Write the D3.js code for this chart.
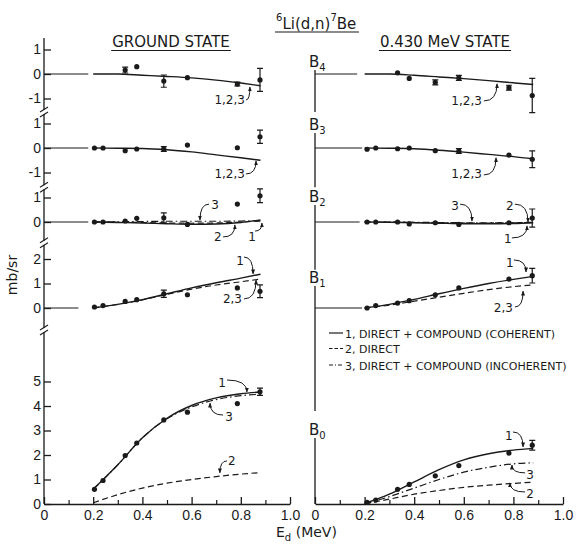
<!DOCTYPE html>
<html>
<head>
<meta charset="utf-8">
<script src="https://cdn.jsdelivr.net/npm/d3@7"></script>
<style>
  body { margin: 0; background: #fff; }
  svg { font-family: "DejaVu Sans", sans-serif; }
</style>
</head>
<body>
<svg id="chart" width="583" height="544"></svg>
<script>
// deuteron energies (MeV) of the measured points and of the calculated curves
const E_GS = [0.205, 0.24, 0.33, 0.377, 0.487, 0.583, 0.786, 0.878];
const E_EX = [0.21, 0.245, 0.333, 0.38, 0.485, 0.58, 0.782, 0.876];
const E_CURVE = [0.2, 0.3, 0.4, 0.5, 0.6, 0.7, 0.8, 0.88];
const X_TICKS = [0, 0.2, 0.4, 0.6, 0.8, 1.0];
const X_MINOR = [0.1, 0.3, 0.5, 0.7, 0.9];

// ground state: measured Legendre coefficients (mb/sr) and errors
const gsB4 = [null, null, 0.16, 0.3, -0.29, -0.15, -0.41, -0.24];
const gsB4Err = [0, 0, 0.12, 0, 0.25, 0, 0.08, 0.47];
const gsB3 = [0, 0, -0.11, -0.04, -0.04, 0.12, 0.01, 0.46];
const gsB3Err = [0, 0, 0, 0, 0.1, 0, 0, 0.27];
const gsB2 = [0, 0, 0.04, 0.15, 0.17, -0.1, 0.73, 1.07];
const gsB2Err = [0, 0, 0, 0, 0.2, 0, 0, 0.28];
const gsB1 = [0.04, 0.1, 0.27, 0.34, 0.58, 0.54, 0.82, 0.68];
const gsB1Err = [0, 0, 0, 0, 0.15, 0, 0, 0.26];
const gsB0 = [0.6, 0.96, 1.98, 2.49, 3.43, 3.75, 4.1, 4.58];
const gsB0Err = [0, 0, 0, 0, 0, 0, 0, 0.15];

// ground state: calculated curves (1 coherent, 2 direct, 3 incoherent)
const gsB4Fit = [0, 0, -0.05, -0.1, -0.16, -0.25, -0.37, -0.48];
const gsB3Fit = [0, -0.01, -0.02, -0.07, -0.16, -0.28, -0.4, -0.5];
const gsB2Fit1 = [0, -0.02, -0.04, -0.07, -0.09, -0.08, -0.02, 0.08];
const gsB2Fit2 = [0, -0.01, -0.02, -0.04, -0.05, -0.04, 0, 0.04];
const gsB2Fit3 = [0, 0.01, 0.02, 0.03, 0.03, 0.03, 0.04, 0.05];
const gsB1Fit1 = [0, 0.15, 0.34, 0.58, 0.82, 1.03, 1.22, 1.38];
const gsB1Fit23 = [0, 0.15, 0.33, 0.56, 0.77, 0.94, 1.07, 1.18];
const gsB0Fit1 = [0.6, 1.6, 2.7, 3.5, 4.02, 4.33, 4.5, 4.57];
const gsB0Fit2 = [0.05, 0.38, 0.65, 0.85, 1.0, 1.12, 1.22, 1.28];
const gsB0Fit3 = [0.6, 1.6, 2.7, 3.48, 3.96, 4.26, 4.42, 4.48];

// 0.430 MeV state: measured coefficients and errors
const exB4 = [null, null, 0.05, -0.18, -0.34, -0.16, -0.56, -0.88];
const exB4Err = [0, 0, 0, 0, 0.1, 0.1, 0.1, 0.7];
const exB3 = [-0.05, 0, -0.03, 0, -0.11, -0.12, -0.29, -0.46];
const exB3Err = [0, 0, 0, 0, 0, 0.1, 0, 0.34];
const exB2 = [0, 0, 0, -0.08, -0.03, -0.1, -0.03, 0.16];
const exB2Err = [0, 0, 0, 0, 0, 0, 0, 0.37];
const exB1 = [0, 0.1, 0.2, 0.3, 0.54, 0.82, 1.18, 1.32];
const exB1Err = [0, 0, 0, 0, 0, 0, 0, 0.3];
const exB0 = [0.07, 0.16, 0.6, 0.8, 1.15, 1.57, 2.08, 2.4];
const exB0Err = [0, 0, 0, 0, 0, 0, 0, 0.2];

// 0.430 MeV state: calculated curves
const exB4Fit = [0, 0, -0.05, -0.12, -0.19, -0.27, -0.36, -0.43];
const exB3Fit = [0, -0.01, -0.03, -0.09, -0.17, -0.26, -0.35, -0.44];
const exB2Fit1 = [0, -0.01, -0.03, -0.05, -0.07, -0.07, -0.06, -0.03];
const exB2Fit2 = [0, 0, -0.02, -0.03, -0.04, -0.04, -0.03, -0.01];
const exB2Fit3 = [0, 0, -0.01, -0.02, -0.03, -0.03, -0.03, -0.02];
const exB1Fit1 = [0, 0.15, 0.35, 0.58, 0.8, 1.0, 1.17, 1.29];
const exB1Fit23 = [0, 0.12, 0.28, 0.44, 0.6, 0.75, 0.87, 0.94];
const exB0Fit1 = [0.02, 0.4, 0.9, 1.4, 1.8, 2.05, 2.2, 2.27];
const exB0Fit2 = [0, 0.2, 0.4, 0.55, 0.68, 0.77, 0.84, 0.89];
const exB0Fit3 = [0, 0.3, 0.65, 1.0, 1.3, 1.5, 1.64, 1.68];

// curve labels: [panel, text, anchor, labelE, labelV, arrowStartE, arrowStartV, tipE, tipV]
const gsNotes = [
  ["B4", "1,2,3", "end", 0.817, -1.22, 0.821, -1.06, 0.837, -0.53],
  ["B3", "1,2,3", "end", 0.817, -1.22, 0.821, -1.06, 0.862, -0.53],
  ["B2", "3", "middle", 0.695, 0.53, 0.671, 0.73, 0.634, 0.08],
  ["B2", "2", "middle", 0.707, -0.78, 0.728, -0.61, 0.776, -0.12],
  ["B2", "1", "middle", 0.846, -0.78, 0.858, -0.37, 0.886, -0.04],
  ["B1", "1", "middle", 0.797, 1.76, 0.813, 2.08, 0.85, 1.39],
  ["B1", "2,3", "end", 0.805, 0.2, 0.813, 0.37, 0.862, 1.14],
  ["B0", "1", "middle", 0.724, 4.78, 0.744, 5.06, 0.825, 4.57],
  ["B0", "3", "middle", 0.752, 3.39, 0.728, 3.63, 0.675, 4.12],
  ["B0", "2", "middle", 0.764, 1.59, 0.744, 1.76, 0.715, 1.27]
];
const exNotes = [
  ["B4", "1,2,3", "end", 0.673, -1.27, 0.681, -1.1, 0.734, -0.4],
  ["B3", "1,2,3", "end", 0.673, -1.22, 0.681, -1.1, 0.73, -0.4],
  ["B2", "3", "middle", 0.565, 0.49, 0.585, 0.73, 0.633, 0.04],
  ["B2", "2", "middle", 0.786, 0.49, 0.806, 0.73, 0.859, 0],
  ["B2", "1", "middle", 0.778, -0.86, 0.794, -0.65, 0.855, -0.16],
  ["B1", "1", "middle", 0.786, 1.67, 0.802, 1.96, 0.851, 1.47],
  ["B1", "2,3", "end", 0.798, -0.16, 0.806, 0.04, 0.839, 0.69],
  ["B0", "1", "middle", 0.782, 2.61, 0.798, 2.94, 0.839, 2.33],
  ["B0", "3", "middle", 0.867, 1.02, 0.847, 1.27, 0.794, 1.59],
  ["B0", "2", "middle", 0.867, 0.24, 0.847, 0.49, 0.786, 0.86]
];

const LEGEND = ["1, DIRECT + COMPOUND (COHERENT)", "2, DIRECT", "3, DIRECT + COMPOUND (INCOHERENT)"];

// layout
const ZERO_Y = { B4: 74, B3: 148, B2: 222, B1: 308, B0: 504 };
const UNIT = 24.5; // px per mb/sr
const DASH = { solid: null, dashed: "6,3.5", dashdot: "7,3,1.5,3" };
const INK = "#1a1a1a";

const groundState = {
  x: d3.scaleLinear().domain([0, 1]).range([44, 290]),
  energies: E_GS,
  notes: gsNotes,
  panels: [
    { name: "B4", pts: gsB4, err: gsB4Err, ticks: [-1, 0, 1], refEnd: 0.18, brk: -1.55,
      curves: [[gsB4Fit, "solid"]] },
    { name: "B3", pts: gsB3, err: gsB3Err, ticks: [-1, 0, 1], refEnd: 0.18, brk: -1.6,
      curves: [[gsB3Fit, "solid"]] },
    { name: "B2", pts: gsB2, err: gsB2Err, ticks: [0, 1], refEnd: 0.18, brk: -0.85,
      curves: [[gsB2Fit3, "dashdot"], [gsB2Fit2, "dashed"], [gsB2Fit1, "solid"]] },
    { name: "B1", pts: gsB1, err: gsB1Err, ticks: [0, 1, 2], refEnd: 0.14, brk: -0.9,
      curves: [[gsB1Fit23, "dashed"], [gsB1Fit1, "solid"]] },
    { name: "B0", pts: gsB0, err: gsB0Err, ticks: [0, 1, 2, 3, 4, 5], refEnd: null, brk: null,
      curves: [[gsB0Fit2, "dashed"], [gsB0Fit3, "dashdot"], [gsB0Fit1, "solid"]] }
  ]
};

const excited = {
  x: d3.scaleLinear().domain([0, 1]).range([315, 563]),
  energies: E_EX,
  notes: exNotes,
  panels: [
    { name: "B4", sub: "4", pts: exB4, err: exB4Err, refEnd: 0.17, lab: 0.29, axBottom: -1.55,
      curves: [[exB4Fit, "solid"]] },
    { name: "B3", sub: "3", pts: exB3, err: exB3Err, refEnd: 0.19, lab: 0.73, axBottom: -1.6,
      curves: [[exB3Fit, "solid"]] },
    { name: "B2", sub: "2", pts: exB2, err: exB2Err, refEnd: 0.18, lab: 0.82, axBottom: -1.95,
      curves: [[exB2Fit3, "dashdot"], [exB2Fit2, "dashed"], [exB2Fit1, "solid"]] },
    { name: "B1", sub: "1", pts: exB1, err: exB1Err, refEnd: 0.19, lab: 1.02, axBottom: -4.2,
      curves: [[exB1Fit23, "dashed"], [exB1Fit1, "solid"]] },
    { name: "B0", sub: "0", pts: exB0, err: exB0Err, refEnd: null, lab: 2.82, axBottom: 0,
      curves: [[exB0Fit2, "dashed"], [exB0Fit3, "dashdot"], [exB0Fit1, "solid"]] }
  ]
};

const svg = d3.select("#chart");

svg.append("defs").append("marker")
  .attr("id", "ah")
  .attr("viewBox", "0 0 10 10")
  .attr("refX", 9).attr("refY", 5)
  .attr("markerWidth", 5).attr("markerHeight", 5)
  .attr("orient", "auto")
  .append("path")
  .attr("d", "M0,1 L10,5 L0,9 Z")
  .attr("fill", INK);

function yScale(name) {
  const z = ZERO_Y[name];
  return d3.scaleLinear().domain([0, 1]).range([z, z - UNIT]);
}

function drawSide(side) {
  const x = side.x;
  const g = svg.append("g");

  side.panels.forEach((p) => {
    const y = yScale(p.name);

    // zero reference line near the axis
    if (p.refEnd) {
      g.append("line")
        .attr("x1", x(0)).attr("x2", x(p.refEnd))
        .attr("y1", y(0)).attr("y2", y(0))
        .attr("stroke", INK).attr("stroke-width", 1);
    }

    const line = d3.line()
      .x((d) => x(d[0]))
      .y((d) => y(d[1]))
      .curve(d3.curveMonotoneX);

    p.curves.forEach(([vals, style]) => {
      g.append("path")
        .datum(E_CURVE.map((e, i) => [e, vals[i]]))
        .attr("fill", "none")
        .attr("stroke", INK)
        .attr("stroke-width", style === "solid" ? 1.4 : 1.2)
        .attr("stroke-dasharray", DASH[style])
        .attr("d", line);
    });

    const pts = side.energies
      .map((e, i) => ({ e, v: p.pts[i], err: p.err[i] }))
      .filter((d) => d.v !== null);

    const eb = pts.filter((d) => d.err > 0);
    g.selectAll(null).data(eb).enter().append("path")
      .attr("fill", "none").attr("stroke", INK).attr("stroke-width", 1.2)
      .attr("d", (d) => {
        const cx = x(d.e), y1 = y(d.v + d.err), y2 = y(d.v - d.err);
        return `M${cx - 3},${y1}H${cx + 3}M${cx},${y1}V${y2}M${cx - 3},${y2}H${cx + 3}`;
      });

    g.selectAll(null).data(pts).enter().append("circle")
      .attr("cx", (d) => x(d.e))
      .attr("cy", (d) => y(d.v))
      .attr("r", 2.6)
      .attr("fill", INK);
  });

  // curve labels with arrows
  side.notes.forEach(([name, txt, anchor, le, lv, se, sv, te, tv]) => {
    const y = yScale(name);
    g.append("text")
      .attr("x", x(le)).attr("y", y(lv))
      .attr("text-anchor", anchor)
      .attr("font-size", 12)
      .attr("fill", INK)
      .text(txt);
    const sx = x(se), sy = y(sv), tx = x(te), ty = y(tv);
    g.append("path")
      .attr("d", `M${sx},${sy}Q${tx},${sy} ${tx},${ty}`)
      .attr("fill", "none")
      .attr("stroke", INK)
      .attr("stroke-width", 1)
      .attr("marker-end", "url(#ah)");
  });

  // energy axis
  const xAxis = g.append("g")
    .attr("transform", `translate(0,${ZERO_Y.B0})`)
    .call(d3.axisBottom(x).tickValues(X_TICKS)
      .tickSizeInner(-7).tickSizeOuter(0).tickPadding(6)
      .tickFormat((d) => (d === 0 ? "0" : d3.format(".1f")(d))));
  xAxis.selectAll("text").attr("font-size", 14).attr("fill", INK);
  xAxis.selectAll("line, path").attr("stroke", INK).attr("stroke-width", 1.3);

  const xMinor = g.append("g")
    .attr("transform", `translate(0,${ZERO_Y.B0})`)
    .call(d3.axisBottom(x).tickValues(X_MINOR).tickSize(-4).tickFormat(""));
  xMinor.select(".domain").remove();
  xMinor.selectAll("line").attr("stroke", INK).attr("stroke-width", 1.2);

  return g;
}

// left: ground state
const gLeft = drawSide(groundState);
const xl = groundState.x;

gLeft.append("line")
  .attr("x1", xl(0)).attr("x2", xl(0))
  .attr("y1", yScale("B4")(1.47)).attr("y2", yScale("B0")(0))
  .attr("stroke", INK).attr("stroke-width", 1.3);

groundState.panels.forEach((p) => {
  const y = yScale(p.name);
  const ax = gLeft.append("g")
    .attr("transform", `translate(${xl(0)},0)`)
    .call(d3.axisLeft(y).tickValues(p.ticks)
      .tickSizeInner(-7).tickSizeOuter(0).tickPadding(3)
      .tickFormat((d) => (d < 0 ? "-" + Math.abs(d) : String(d))));
  ax.select(".domain").remove();
  ax.selectAll("line").attr("stroke", INK).attr("stroke-width", 1.3);
  ax.selectAll("text").attr("font-size", 14).attr("fill", INK);

  if (p.brk !== null) {
    const by = y(p.brk), bx = xl(0);
    gLeft.append("rect")
      .attr("x", bx - 2).attr("y", by - 2).attr("width", 4).attr("height", 4)
      .attr("fill", "#fff");
    [-2.5, 2.5].forEach((off) => {
      gLeft.append("line")
        .attr("x1", bx - 4).attr("y1", by + off + 2.5)
        .attr("x2", bx + 4).attr("y2", by + off - 2.5)
        .attr("stroke", INK).attr("stroke-width", 1.1);
    });
  }
});

// right: 0.430 MeV state
const gRight = drawSide(excited);
const xr = excited.x;

excited.panels.forEach((p) => {
  const y = yScale(p.name);
  gRight.append("line")
    .attr("x1", xr(0)).attr("x2", xr(0))
    .attr("y1", y(p.lab) + 3).attr("y2", y(p.axBottom))
    .attr("stroke", INK).attr("stroke-width", 1.3);
  const t = gRight.append("text")
    .attr("x", xr(0) - 6).attr("y", y(p.lab))
    .attr("font-size", 15).attr("fill", INK)
    .text("B");
  t.append("tspan")
    .attr("dy", 4).attr("font-size", 10)
    .text(p.sub);
});

// legend
const legend = svg.append("g").attr("transform", "translate(329,333)");
LEGEND.forEach((txt, i) => {
  const style = ["solid", "dashed", "dashdot"][i];
  const row = legend.append("g").attr("transform", `translate(0,${[0, 15.5, 32][i]})`);
  row.append("line")
    .attr("x1", 0).attr("x2", 14)
    .attr("stroke", INK).attr("stroke-width", 1.2)
    .attr("stroke-dasharray", style === "dashed" ? "3.5,2" : style === "dashdot" ? "4,2,1,2" : null);
  row.append("text")
    .attr("x", 16).attr("y", 4.5)
    .attr("font-size", 11).attr("fill", INK)
    .text(txt);
});

// titles
const title = svg.append("text")
  .attr("x", 276).attr("y", 29)
  .attr("font-size", 15).attr("fill", INK);
title.append("tspan").attr("font-size", 10).attr("dy", -8).text("6");
title.append("tspan").attr("dy", 8).text("Li(d,n)");
title.append("tspan").attr("font-size", 10).attr("dy", -8).text("7");
title.append("tspan").attr("dy", 8).text("Be");
svg.append("line").attr("x1", 275).attr("x2", 359).attr("y1", 32).attr("y2", 32)
  .attr("stroke", INK).attr("stroke-width", 1.2);

[["GROUND STATE", 171], ["0.430 MeV STATE", 445]].forEach(([txt, cx]) => {
  const t = svg.append("text")
    .attr("x", cx).attr("y", 47)
    .attr("text-anchor", "middle")
    .attr("font-size", 15).attr("fill", INK)
    .text(txt);
  const w = t.node().getComputedTextLength();
  svg.append("line")
    .attr("x1", cx - w / 2 - 1).attr("x2", cx + w / 2 + 1)
    .attr("y1", 50.5).attr("y2", 50.5)
    .attr("stroke", INK).attr("stroke-width", 1.1);
});

// axis titles
svg.append("text")
  .attr("transform", "translate(17,275) rotate(-90)")
  .attr("text-anchor", "middle")
  .attr("font-size", 14).attr("fill", INK)
  .text("mb/sr");

const ed = svg.append("text")
  .attr("x", 276).attr("y", 537)
  .attr("font-size", 14).attr("fill", INK);
ed.append("tspan").text("E");
ed.append("tspan").attr("dy", 4).attr("font-size", 10).text("d");
ed.append("tspan").attr("dy", -4).text(" (MeV)");
</script>
</body>
</html>
